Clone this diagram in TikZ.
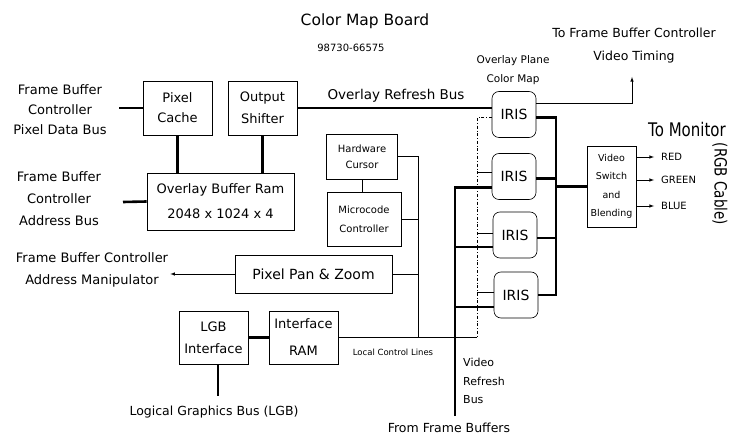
\documentclass[tikz,border=0pt]{standalone}
\usepackage{fontspec}
\setmainfont{DejaVu Sans}
\usepackage{tikz}

\begin{document}
\begin{tikzpicture}[x=1pt,y=-1pt,
  every node/.style={font=\fontsize{13}{20}\selectfont},
  box/.style={draw,line width=0.6pt,inner sep=1pt,align=center},
  iris/.style={draw,line width=0.6pt,rounded corners=7pt,minimum width=44pt,minimum height=46pt,font=\fontsize{14}{16}\selectfont},
  bus/.style={line width=2.6pt},
  ctl/.style={line width=0.6pt},
  lbl/.style={align=center,inner sep=2pt}]

  \useasboundingbox (0,0) rectangle (730,438);

  % Titles
  \node[lbl,font=\fontsize{15.5}{18}\selectfont] (title) at (365,21) {Color Map Board};
  \node[lbl,font=\fontsize{10}{12}\selectfont] (partno) at (351,48) {98730-66575};

  % Overlay buffer side
  \node[box,minimum width=69pt,minimum height=54pt] (pcache) at (177.5,108) {Pixel\\Cache};
  \node[box,minimum width=69pt,minimum height=54pt,font=\fontsize{13}{22}\selectfont] (oshift) at (262.5,108) {Output\\Shifter};
  \node[box,minimum width=147pt,minimum height=57pt,font=\fontsize{13}{25}\selectfont] (obram) at (220.5,201.5) {Overlay Buffer Ram\\2048 x 1024 x 4};
  \node[lbl] (fbpdb) at (60,110) {Frame Buffer\\Controller\\Pixel Data Bus};
  \node[lbl,font=\fontsize{13}{22}\selectfont] (fbab) at (59,199) {Frame Buffer\\Controller\\Address Bus};
  \coordinate (pdbend) at (119,108);
  \coordinate (abend) at (123,202);

  % Control side
  \node[box,minimum width=71pt,minimum height=45pt,font=\fontsize{10}{16}\selectfont] (hwc) at (362,156.5) {Hardware\\Cursor};
  \node[box,minimum width=74pt,minimum height=54pt,font=\fontsize{10}{19}\selectfont] (mcc) at (364,219) {Microcode\\Controller};
  \node[box,minimum width=157pt,minimum height=38pt,font=\fontsize{14}{16}\selectfont] (ppz) at (313.5,274) {Pixel Pan \& Zoom};
  \node[lbl,font=\fontsize{13}{22}\selectfont] (fbam) at (92,270) {Frame Buffer Controller\\Address Manipulator};
  \node[box,minimum width=69pt,minimum height=53pt,font=\fontsize{13}{22}\selectfont] (lgb) at (213.5,337.5) {LGB\\Interface};
  \node[box,minimum width=69pt,minimum height=53pt,font=\fontsize{13}{27}\selectfont] (iram) at (303.5,337.5) {Interface\\RAM};
  \node[lbl,font=\fontsize{12.5}{15}\selectfont] (lgbbus) at (214,412) {Logical Graphics Bus (LGB)};
  \node[lbl,font=\fontsize{8.5}{10}\selectfont] (lcl) at (393,352) {Local Control Lines};
  \coordinate (lgbend) at (218,396);
  \coordinate (cv) at (418,0);

  % Color maps
  \node[iris] (iris1) at (514,114.5) {IRIS};
  \node[iris] (iris2) at (514,176.5) {IRIS};
  \node[iris] (iris3) at (515,235) {IRIS};
  \node[iris] (iris4) at (516,295) {IRIS};
  \node[lbl,font=\fontsize{13.5}{16}\selectfont] (ovlbus) at (396,96) {Overlay Refresh Bus};
  \node[lbl,font=\fontsize{10.5}{19}\selectfont] (opcm) at (513,70) {Overlay Plane\\Color Map};
  \node[lbl,font=\fontsize{12.5}{23}\selectfont] (tofbc) at (634,46) {To Frame Buffer Controller\\Video Timing};
  \node[lbl,font=\fontsize{11}{18.5}\selectfont,align=left,anchor=west] (vrbus) at (461,381) {Video\\Refresh\\Bus};
  \node[lbl,font=\fontsize{12.5}{15}\selectfont] (ffb) at (449,428) {From Frame Buffers};
  \coordinate (vtend) at (632,77);
  \coordinate (rbus) at (556,0);
  \coordinate (vbus) at (455,416);
  \coordinate (cdash) at (477,0);

  % Output
  \node[box,minimum width=49pt,minimum height=81pt,font=\fontsize{9.5}{18.3}\selectfont] (vsw) at (611.5,186.5) {Video\\Switch\\and\\Blending};
  \node[lbl,font=\fontsize{15}{18}\selectfont] (tomon) at (687,130) {\scalebox{1}[1.25]{To Monitor}};
  \node[lbl,font=\fontsize{13.5}{16}\selectfont,rotate=-90] (rgbc) at (720,184) {\scalebox{1}[1.25]{(RGB Cable)}};
  \node[lbl,font=\fontsize{10}{12}\selectfont,anchor=west] (red) at (659,157) {RED};
  \node[lbl,font=\fontsize{10}{12}\selectfont,anchor=west] (green) at (659,180) {GREEN};
  \node[lbl,font=\fontsize{10}{12}\selectfont,anchor=west] (blue) at (659,206) {BLUE};

  % Thick buses
  \draw[bus] (pdbend) -- (pcache.west);
  \draw[bus] (abend) -- (obram.west);
  \draw[bus] (pcache.south) -- (pcache.south |- obram.north);
  \draw[bus] (oshift.south) -- (oshift.south |- obram.north);
  \draw[bus] (oshift.east) -- (oshift.east -| iris1.west);
  \draw[bus] (lgb.east) -- (iram.west);
  \draw[bus] (lgbend |- lgb.south) -- (lgbend);
  \draw[bus] (vbus) |- ([yshift=-11pt]iris2.west);
  \draw[bus] ([yshift=-12pt]iris3.west) -| (vbus);
  \draw[bus] ([yshift=-12pt]iris4.west) -| (vbus);
  \draw[bus] ([yshift=-3pt]iris1.east) -| (iris4.east -| rbus) -- (iris4.east);
  \draw[bus] ([yshift=-2pt]iris2.east) -- ([yshift=-2pt]iris2.east -| rbus);
  \draw[bus] ([yshift=-3pt]iris3.east) -- ([yshift=-3pt]iris3.east -| rbus);
  \draw[bus] (vsw.west -| rbus) -- (vsw.west);

  % Control lines
  \draw[ctl] (hwc.south) -- (hwc.south |- mcc.north);
  \draw[ctl] (hwc.east) -| (iram.east -| cv);
  \draw[ctl] (mcc.east) -- (mcc.east -| cv);
  \draw[ctl] (ppz.east) -- (ppz.east -| cv);
  \draw[ctl] (iram.east) -- (iram.east -| cdash);
  \draw[ctl,dashdotted] ([yshift=-3pt]iris1.west) -| (iram.east -| cdash);
  \draw[ctl] ([yshift=4pt]iris2.west) -- ([yshift=4pt]iris2.west -| cdash);
  \draw[ctl] ([yshift=2pt]iris3.west) -- ([yshift=2pt]iris3.west -| cdash);
  \draw[ctl] ([yshift=3pt]iris4.west) -- ([yshift=3pt]iris4.west -| cdash);
  \draw[ctl,-latex] (ppz.west) -- (ppz.west -| fbam.east);
  \draw[ctl,-latex] ([yshift=11pt]iris1.east) -| (vtend);

  % RGB outputs
  \draw[ctl,-latex] (vsw.east |- red.west) -- ([xshift=-5pt]red.west);
  \draw[ctl,-latex] (vsw.east |- green.west) -- ([xshift=-5pt]green.west);
  \draw[ctl,-latex] (vsw.east |- blue.west) -- ([xshift=-5pt]blue.west);

\end{tikzpicture}
\end{document}
